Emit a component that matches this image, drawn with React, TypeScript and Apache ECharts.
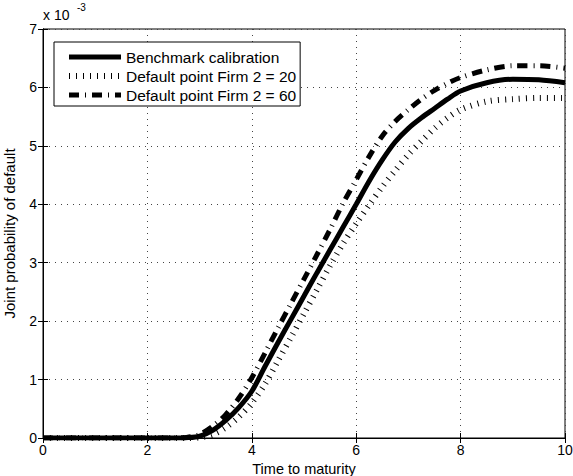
import React, { useEffect, useRef } from "react";
import * as echarts from "echarts";

// x values (time to maturity)
const xs = [0, 1, 2, 2.5, 2.75, 3, 3.25, 3.5, 3.75, 4, 4.25, 4.5, 4.75, 5, 5.25, 5.5, 5.75, 6, 6.25, 6.5, 6.75, 7, 7.25, 7.5, 7.75, 8, 8.5, 9, 9.5, 10];
// joint probability of default, in units of 10^-3
const benchmark = [0, 0, 0, 0, 0.005, 0.03, 0.13, 0.3, 0.52, 0.8, 1.22, 1.63, 2.03, 2.43, 2.83, 3.22, 3.61, 4.0, 4.4, 4.76, 5.07, 5.3, 5.48, 5.64, 5.8, 5.94, 6.08, 6.14, 6.13, 6.08];
const firm20 = [0, 0, 0, 0, 0, 0.01, 0.06, 0.18, 0.36, 0.6, 0.92, 1.32, 1.72, 2.13, 2.54, 2.95, 3.33, 3.67, 3.99, 4.3, 4.58, 4.85, 5.08, 5.3, 5.48, 5.62, 5.76, 5.8, 5.82, 5.82];
const firm60 = [0, 0, 0, 0, 0.01, 0.06, 0.2, 0.4, 0.68, 1.03, 1.45, 1.88, 2.3, 2.72, 3.14, 3.57, 4.02, 4.42, 4.82, 5.17, 5.42, 5.62, 5.8, 5.95, 6.07, 6.17, 6.3, 6.37, 6.37, 6.33];

const seriesNames = ["Benchmark calibration", "Default point Firm 2 = 20", "Default point Firm 2 = 60"];
const xTicks = [0, 2, 4, 6, 8, 10];
const yTicks = [0, 1, 2, 3, 4, 5, 6, 7];

const FONT = "Liberation Sans, Arial, Helvetica, sans-serif";

const styles = [
  { width: 5, type: "solid" as any },
  { width: 6, type: [1, 6] as any },
  { width: 5, type: [10, 6, 1, 6] as any },
];

export default function App() {
  const ref = useRef<HTMLDivElement>(null);
  useEffect(() => {
    if (!ref.current) return;
    const chart = echarts.init(ref.current, undefined, { renderer: "svg" });
    const pairs = (ys: number[]) => xs.map((x, i) => [x, ys[i]]);
    const gridLine = { show: true, lineStyle: { color: "#444", type: [1, 5] as any, width: 1 } };
    const baseX = {
      type: "value" as const,
      min: xTicks[0],
      max: xTicks[xTicks.length - 1],
      interval: 2,
    };
    const baseY = {
      type: "value" as const,
      min: yTicks[0],
      max: yTicks[yTicks.length - 1],
      interval: 1,
    };
    const allY = [benchmark, firm20, firm60];
    chart.setOption({
      animation: false,
      backgroundColor: "#fff",
      textStyle: { fontFamily: FONT },
      grid: {
        left: 43,
        right: 8,
        top: 29,
        bottom: 38,
        show: true,
        borderColor: "#000",
        borderWidth: 1,
        backgroundColor: "transparent",
        outerBoundsMode: "none",
        containLabel: false,
      },
      legend: {
        orient: "vertical",
        left: 54,
        top: 42,
        padding: [7, 4, 3, 12],
        itemWidth: 52,
        itemHeight: 18,
        itemGap: 3,
        itemTextGap: 8,
        borderColor: "#000",
        borderWidth: 1,
        borderRadius: 0,
        backgroundColor: "#fff",
        itemStyle: { opacity: 0 },
        textStyle: { fontSize: 15.5, color: "#000", fontFamily: FONT },
        data: seriesNames.map((n, i) => ({
          name: n,
          itemStyle: { opacity: 0 },
          lineStyle: { color: "#000", width: styles[i].width, type: styles[i].type },
        })),
      },
      xAxis: [
        {
          ...baseX,
          position: "bottom",
          name: "Time to maturity",
          nameLocation: "middle",
          nameGap: 22,
          nameTextStyle: { fontSize: 14.5, color: "#000", fontFamily: FONT },
          axisLine: { show: true, onZero: false, lineStyle: { color: "#000" } },
          axisTick: { show: true, inside: true, length: 5, lineStyle: { color: "#000" } },
          axisLabel: { fontSize: 14, color: "#000", margin: 5, fontFamily: FONT },
          splitLine: gridLine,
        },
        {
          ...baseX,
          position: "top",
          axisLine: { show: true, lineStyle: { color: "#000" } },
          axisTick: { show: true, inside: true, length: 5, lineStyle: { color: "#000" } },
          axisLabel: { show: false },
          splitLine: { show: false },
        },
      ],
      yAxis: [
        {
          ...baseY,
          position: "left",
          name: "Joint probability of default",
          nameLocation: "middle",
          nameGap: 26,
          nameTextStyle: { fontSize: 15, color: "#000", fontFamily: FONT },
          axisLine: { show: true, onZero: false, lineStyle: { color: "#000" } },
          axisTick: { show: true, inside: true, length: 5, lineStyle: { color: "#000" } },
          axisLabel: { fontSize: 14, color: "#000", margin: 6, fontFamily: FONT },
          splitLine: gridLine,
        },
        {
          ...baseY,
          position: "right",
          axisLine: { show: true, lineStyle: { color: "#000" } },
          axisTick: { show: true, inside: true, length: 5, lineStyle: { color: "#000" } },
          axisLabel: { show: false },
          splitLine: { show: false },
        },
      ],
      graphic: [
        { type: "text", left: 43, top: 8, style: { text: "x 10", fontSize: 14, fill: "#000", fontFamily: FONT } },
        { type: "text", left: 77, top: 2, style: { text: "-3", fontSize: 10, fill: "#000", fontFamily: FONT } },
      ],
      series: seriesNames.map((n, i) => ({
        name: n,
        type: "line",
        data: pairs(allY[i]),
        smooth: 0.3,
        showSymbol: false,
        symbol: "none",
        itemStyle: { color: "#000" },
        lineStyle: { color: "#000", width: styles[i].width, type: styles[i].type },
        z: i === 0 ? 3 : 2,
      })),
    });
    return () => chart.dispose();
  }, []);
  return <div ref={ref} style={{ width: 573, height: 476, position: "absolute", left: 0, top: 0 }} />;
}
